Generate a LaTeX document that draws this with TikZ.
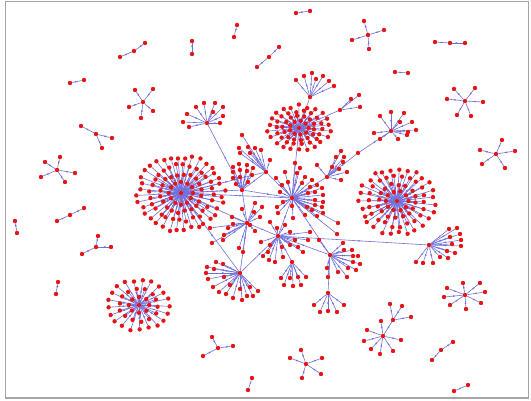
\documentclass[tikz,border=0pt]{standalone}
\usetikzlibrary{calc,arrows.meta,decorations.markings}
\definecolor{nred}{RGB}{230,20,22}
\definecolor{nblue}{RGB}{112,112,218}
\definecolor{frame}{RGB}{165,165,165}
\pgfdeclarelayer{bgl}
\pgfdeclarelayer{edges}
\pgfsetlayers{bgl,edges,main}
\tikzset{
  dot/.style={circle,fill=nred,inner sep=0pt,minimum size=4.4pt},
  edge/.style={draw=nblue,line width=0.6pt,postaction={decorate},
    decoration={markings,mark=at position 0.55 with {\arrow{Latex[length=2.3pt,width=1.9pt]}}}}
}
\gdef\edgelist{}
\newcommand\lnk[2]{\xdef\edgelist{\unexpanded\expandafter{\edgelist}\noexpand\draw[edge] (#1) -- (#2);}}
\newcommand\hubat[3]{\node[dot] (#1) at (#2,#3) {};}
\newcommand\starleaves[2]{\foreach \x/\y [count=\i] in {#2} {\node[dot] (#1-\i) at (\x,\y) {}; \lnk{#1-\i}{#1}}}
\newcommand\ringhub[2]{\foreach \n/\rx/\ry/\ph [count=\r] in {#2} {\foreach \k in {1,...,\n} {%
  \pgfmathsetmacro\ang{\ph+360*\k/\n}\pgfmathsetmacro\ra{\rx*(1+0.07*rand)}\pgfmathsetmacro\rb{\ry*(1+0.07*rand)}%
  \pgfmathsetmacro\dx{\ra*cos(\ang)}\pgfmathsetmacro\dy{\rb*sin(\ang)}%
  \node[dot] (#1-\r-\k) at ($(#1)+(\dx,\dy)$) {}; \lnk{#1-\r-\k}{#1}}}}
\begin{document}
\begin{tikzpicture}[x=1pt,y=-1pt]
\pgfmathsetseed{11}
\useasboundingbox (0,0) rectangle (531,400);
\begin{pgfonlayer}{bgl}
\fill[white] (0,0) rectangle (531,400);
\draw[frame,line width=1.1pt] (5.5,1.5) rectangle (528.5,398);
\end{pgfonlayer}

% ---------- small components ----------
\node[dot] (p1a) at (296,13) {}; \node[dot] (p1b) at (310,11) {}; \lnk{p1a}{p1b}
\node[dot] (t2a) at (120,57) {}; \node[dot] (t2b) at (134,51) {}; \node[dot] (t2c) at (145,43) {}; \lnk{t2a}{t2b}\lnk{t2c}{t2b}
\node[dot] (p3a) at (192,41) {}; \node[dot] (p3b) at (192,54) {}; \lnk{p3a}{p3b}
\node[dot] (p4a) at (237,25) {}; \node[dot] (p4b) at (234,37) {}; \lnk{p4a}{p4b}
\node[dot] (t5a) at (257,67) {}; \node[dot] (t5b) at (269,57) {}; \node[dot] (t5c) at (279,47) {}; \lnk{t5a}{t5b}\lnk{t5c}{t5b}
\hubat{s1}{368}{35} \starleaves{s1}{364/21,384/30,352/40,369/49}
\node[dot] (t7a) at (435,42) {}; \node[dot] (t7b) at (450,43) {}; \node[dot] (t7c) at (465,43) {}; \lnk{t7a}{t7b}\lnk{t7b}{t7c}
\node[dot] (p8a) at (395,72) {}; \node[dot] (p8b) at (408,73) {}; \lnk{p8a}{p8b}
\node[dot] (p9a) at (70,83) {}; \node[dot] (p9b) at (84,80) {}; \lnk{p9a}{p9b}
\hubat{s2}{143}{102} \starleaves{s2}{135/90,153/89,129/107,153/111,141/118}
\hubat{s3}{465}{101} \starleaves{s3}{454/89,475/88,447/99,483/102,457/115,471/116}
\hubat{s4}{496}{154} \starleaves{s4}{502/140,515/151,480/150,482/164,505/168}
\hubat{s5}{96}{134} \starleaves{s5}{81/126,112/138,102/148}
\hubat{s6}{57}{170} \starleaves{s6}{60/157,45/162,75/173,41/177,65/182}
\node[dot] (t15a) at (57,221) {}; \node[dot] (t15b) at (70,215) {}; \node[dot] (t15c) at (84,208) {}; \lnk{t15a}{t15b}\lnk{t15c}{t15b}
\node[dot] (p16a) at (15,221) {}; \node[dot] (p16b) at (17,233) {}; \lnk{p16a}{p16b}
\hubat{s7}{96}{247} \starleaves{s7}{98/236,111/247,82/254}
\node[dot] (p18a) at (58,282) {}; \node[dot] (p18b) at (56,294) {}; \lnk{p18a}{p18b}
\hubat{s8}{218}{348} \starleaves{s8}{212/337,233/346,203/356}
\node[dot] (p20a) at (252,378) {}; \node[dot] (p20b) at (248,390) {}; \lnk{p20a}{p20b}
\hubat{s9}{306}{364} \starleaves{s9}{301/350,322/358,290/358,321/374,302/378}
\hubat{s10}{383}{336} \starleaves{s10}{367/330,364/341,371/349,380/354,393/351,401/340,381/321}
\hubat{s11}{393}{320} \starleaves{s11}{390/304,402/306,411/317} \lnk{s11}{s10}
\hubat{s12}{465}{295} \starleaves{s12}{463/283,480/283,447/288,485/292,444/297,481/303,450/305,466/309}
\node[dot] (t24a) at (432,360) {}; \node[dot] (t24b) at (441,350) {}; \node[dot] (t24c) at (453,342) {}; \lnk{t24a}{t24b}\lnk{t24c}{t24b}
\node[dot] (p25a) at (454,391) {}; \node[dot] (p25b) at (468,385) {}; \lnk{p25a}{p25b}

% ---------- big isolated hubs ----------
\hubat{BL}{139}{305} \ringhub{BL}{8/10/8/0, 14/19/16/6, 21/30/25/3}
\hubat{RH}{397}{201} \ringhub{RH}{10/11/10/0, 16/19/17/5, 22/28/25/2, 27/37/33/7}

% ---------- main component ----------
\hubat{L}{181}{193} \ringhub{L}{12/12/11/0, 20/21/19/8, 28/31/28/3, 36/42/37/6}
\hubat{T}{299}{128} \ringhub{T}{9/9/7/0, 14/16/12/6, 18/23/17/3, 22/30/22/8}
\hubat{S}{207}{123} \starleaves{S}{196/107,204/103,215/103,223/107,213/112,223/116,187/114,183/122,189/127,220/123}
\hubat{U}{310}{97} \starleaves{U}{296/80,304/76,312/73,316/79,323/76,329/81,334/86}
\hubat{G}{340}{110} \starleaves{G}{351/99,359/95,360/107}
\hubat{F}{391}{131} \starleaves{F}{380/116,391/112,404/113,412/122,416/130,408/132,374/133,380/139,398/139,407/135,400/122}
\hubat{A}{242}{190} \starleaves{A}{233/167,239/164,247/165,233/172,240/170,247/171,253/168,233/178,240/177,252/175,248/182,236/184}
\hubat{P}{266}{172} \starleaves{P}{239/148,248/147,255/148,240/153,250/153,261/150,242/135,270/160}
\hubat{C0}{292}{198} \starleaves{C0}{295/163,297/173,305/177,312/180,302/183,310/187,317/185,322/188,308/193,315/192,323/195,315/200,323/202,322/207,315/205,307/207,312/210,323/213,305/215,317/216,293/218,338/223,337/234,282/185,288/182,280/192,283/202,292/206,277/207,278/213,285/172,276/178,300/168}
\hubat{E}{327}{177} \starleaves{E}{317/165,332/167,336/157,341/151,344/157,343/162,339/169,347/172,341/180,358/153}
\hubat{D}{247}{223} \starleaves{D}{210/228,212/243,224/235,223/240,232/217,242/209,254/212,255/203,262/207,239/248,243/252,255/231,233/224,228/228,250/225,260/217}
\hubat{C1}{278}{236} \starleaves{C1}{261/242,270/245,263/256,269/260,275/262,282/247,290/245,295/240,298/247,303/252,283/257,268/252,308/240,310/232,270/222,277/228,285/225,290/232}
\hubat{C2}{292}{262} \starleaves{C2}{281/278,284/285,290/278,293/286,298/277,301/285,306/277}
\hubat{C3}{240}{273} \starleaves{C3}{207/267,216/262,223/264,206/273,214/269,208/279,224/277,213/287,219/292,226/294,233/298,242/300,247/296,253/296,258/291,250/287,230/285,240/289}
\hubat{C4}{330}{255} \starleaves{C4}{343/243,344/250,352/250,353/256,358/256,360/264,353/262,356/270,348/268,347/277,338/272,328/277,327/268,319/240}
\hubat{C5}{328}{293} \starleaves{C5}{314/305,320/312,328/311,337/312,344/305}
\hubat{R}{429}{245} \starleaves{R}{449/229,457/228,450/237,460/234,461/240,461/246,452/244,455/253,447/251,448/258,440/257,433/263,423/263,416/262}

% hub-to-hub links
\lnk{L}{A}\lnk{L}{C0}\lnk{L}{D}\lnk{A}{C0}\lnk{P}{C0}\lnk{D}{C1}\lnk{D}{C3}
\lnk{C1}{C0}\lnk{C2}{C1}\lnk{C1}{R}\lnk{C4}{C1}\lnk{C4}{C0}\lnk{C5}{C4}
\lnk{E}{C0}\lnk{E-10}{F}\lnk{T}{C0}\lnk{U}{T}\lnk{G}{T}\lnk{S}{A}
\lnk{L}{C3}\lnk{A}{D}\lnk{P}{A}\lnk{C3}{C1}\lnk{L}{P}

\begin{pgfonlayer}{edges}
\edgelist
\end{pgfonlayer}
\end{tikzpicture}
\end{document}
